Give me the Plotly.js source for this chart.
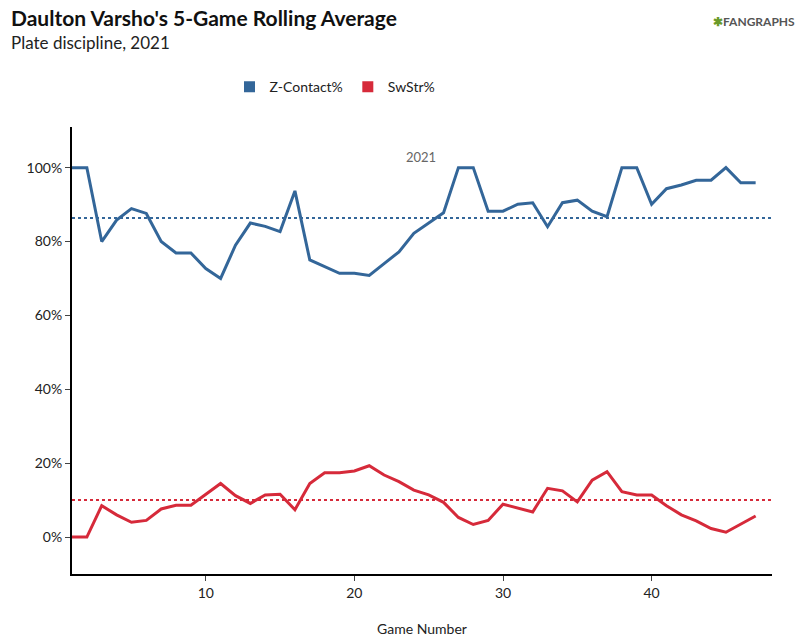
<!DOCTYPE html>
<html><head><meta charset="utf-8">
<script src="https://cdn.plot.ly/plotly-3.0.1.min.js"></script>
<style>body{margin:0;background:#fff}#c{width:812px;height:637px}</style>
</head><body><div id="c"></div>
<script>
const games = Array.from({length:47},(_,i)=>i+1);
const zContact = [100,100,80,85.8,88.9,87.6,80,76.9,76.9,72.7,70,79,85,84.1,82.7,93.7,75,73.3,71.4,71.4,70.8,74,77.2,82.2,85,87.8,100,100,88.2,88.2,90.1,90.5,84,90.5,91.2,88.2,86.7,100,100,90.1,94.3,95.3,96.6,96.6,100,95.9,95.9];
const swStr = [0,0,8.5,6,4,4.5,7.6,8.6,8.6,11.6,14.5,11.2,9.1,11.4,11.6,7.4,14.5,17.4,17.4,17.9,19.3,16.8,15,12.7,11.4,9.4,5.3,3.4,4.5,8.9,7.8,6.8,13.2,12.5,9.5,15.4,17.7,12.3,11.4,11.4,8.5,6,4.4,2.3,1.3,3.5,5.7];
const zMean = 86.4, swMean = 10;
const blue = '#336699', red = '#d62a3a';
const F = 'Lato, sans-serif';
const traces = [
 {x:games,y:zContact,name:'Z-Contact%',mode:'lines',line:{color:blue,width:3},showlegend:false},
 {x:games,y:swStr,name:'SwStr%',mode:'lines',line:{color:red,width:3},showlegend:false},
 {x:[1,48.1],y:[zMean,zMean],mode:'lines',line:{color:blue,width:2,dash:'dot'},showlegend:false},
 {x:[1,48.1],y:[swMean,swMean],mode:'lines',line:{color:red,width:2,dash:'dot'},showlegend:false},
 {x:[null],y:[null],name:'Z-Contact%',mode:'markers',marker:{symbol:'square',size:11,color:blue}},
 {x:[null],y:[null],name:'SwStr%',mode:'markers',marker:{symbol:'square',size:11,color:red}}
];
const layout = {
 width:812,height:637,paper_bgcolor:'#fff',plot_bgcolor:'#fff',
 margin:{l:72,r:40,t:127,b:63},
 font:{family:F,size:14,color:'#222'},
 showlegend:true,
 legend:{orientation:'h',x:0.225,y:1.089,xanchor:'left',yanchor:'middle',font:{size:14},itemwidth:30},
 xaxis:{range:[1,48.1],tickvals:[10,20,30,40],showgrid:false,zeroline:false,showline:true,linecolor:'#000',linewidth:2,ticks:'outside',ticklen:5,tickcolor:'#444',tickfont:{size:14},
   title:{text:'Game Number',font:{size:14},standoff:30}},
 yaxis:{range:[-10,111],tickvals:[0,20,40,60,80,100],ticktext:['0%','20%','40%','60%','80%','100%'],showgrid:false,zeroline:false,showline:true,linecolor:'#000',linewidth:2,ticks:'outside',ticklen:5,tickcolor:'#444',tickfont:{size:14}},
 annotations:[
  {text:"<b>Daulton Varsho's 5-Game Rolling Average</b>",xref:'paper',yref:'paper',x:-0.09,y:1.246,xanchor:'left',yanchor:'middle',showarrow:false,font:{size:21,color:'#111',family:F}},
  {text:'Plate discipline, 2021',xref:'paper',yref:'paper',x:-0.09,y:1.188,xanchor:'left',yanchor:'middle',showarrow:false,font:{size:17,color:'#222',family:F}},
  {text:'<b><span style="color:#6a9a2a">✱</span>FANGRAPHS</b>',xref:'paper',yref:'paper',x:1.035,y:1.236,xanchor:'right',yanchor:'middle',showarrow:false,font:{size:12,color:'#555',family:F}},
  {text:'2021',xref:'x',yref:'paper',x:24.5,y:0.955,showarrow:false,font:{size:13,color:'#666',family:F}}
 ]
};
Plotly.newPlot('c',traces,layout,{displayModeBar:false,staticPlot:true});
</script></body></html>
